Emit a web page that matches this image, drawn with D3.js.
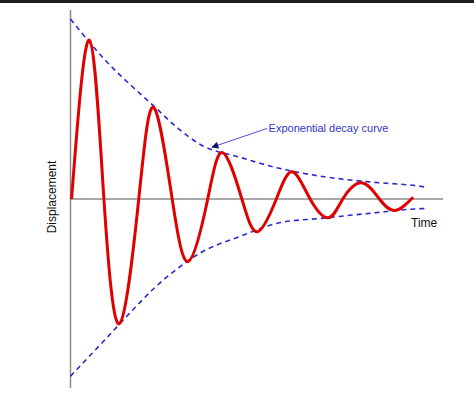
<!DOCTYPE html>
<html>
<head>
<meta charset="utf-8">
<script src="https://cdn.jsdelivr.net/npm/d3@7"></script>
<style>
  html, body { margin: 0; padding: 0; background: #fff; }
  #bar { height: 3px; background: #1e1e1e; }
  svg { display: block; }
</style>
</head>
<body>
<div id="bar"></div>
<div id="div1"></div>
<script>
// Damped oscillation (time in arbitrary units, displacement relative to start amplitude)
let waveTime = [0.03, 0.53, 0.94, 1.38, 1.92, 2.34, 2.86, 3.32, 3.86, 4.28, 4.82, 5.26, 5.79, 6.24, 6.74, 7.26, 7.66, 8.19, 8.69, 9.13, 9.64]
let waveDisp = [0, 0.883, 0, -0.692, 0, 0.508, 0, -0.346, 0, 0.258, 0, -0.182, 0, 0.151, 0, -0.104, 0, 0.09, 0, -0.064, 0.01]

// envelope (exponential decay curve), upper and lower
let envTime = [0, 1.03, 1.83, 2.33, 3.04, 3.65, 4.78, 5.9, 7.02, 8.4, 9.83, 10]
let envUpper = [1.0, 0.76, 0.608, 0.519, 0.39, 0.303, 0.231, 0.169, 0.127, 0.095, 0.071, 0.066]
let envLower = [-0.984, -0.769, -0.6, -0.5, -0.382, -0.3, -0.207, -0.131, -0.108, -0.08, -0.054, -0.053]

// annotation: arrow tip and label anchor
let noteText = "Exponential decay curve"
let noteTip = [3.98, 0.288]
let noteFrom = [5.53, 0.392]

let xLabel = "Time"
let yLabel = "Displacement"

let width = 474, height = 393

let svg = d3.select("#div1").append("svg")
  .attr("width", width)
  .attr("height", height)

let x = d3.scaleLinear().domain([0, 10]).range([70.5, 426])
let y = d3.scaleLinear().domain([-1.05, 1.05]).range([385, 7])

// axes
svg.append("line")
   .attr("x1", x(0)).attr("x2", x(0))
   .attr("y1", y(1.05)).attr("y2", y(-1.05))
   .style("stroke", "#8a8a8a")
   .style("stroke-width", 1.5)

svg.append("line")
   .attr("x1", x(0)).attr("x2", x(10.48))
   .attr("y1", y(0)).attr("y2", y(0))
   .style("stroke", "#555")
   .style("stroke-width", 1)

// envelope lines
let envLine = d3.line()
  .x(d => x(d[0]))
  .y(d => y(d[1]))
  .curve(d3.curveMonotoneX)

let upper = envTime.map((t, i) => [t, envUpper[i]])
let lower = envTime.map((t, i) => [t, envLower[i]])

svg.selectAll("path.env")
   .data([upper, lower])
   .enter()
   .append("path")
   .attr("class", "env")
   .attr("d", envLine)
   .style("fill", "none")
   .style("stroke", "#2a2ad0")
   .style("stroke-width", 1.6)
   .style("stroke-dasharray", "5,4")

// the oscillation
let wave = waveTime.map((t, i) => [t, waveDisp[i]])

svg.append("path")
   .datum(wave)
   .attr("d", d3.line().x(d => x(d[0])).y(d => y(d[1])).curve(d3.curveNatural))
   .style("fill", "none")
   .style("stroke", "#e00000")
   .style("stroke-width", 3)
   .style("stroke-linejoin", "round")

// annotation arrow
svg.append("defs").append("marker")
   .attr("id", "head")
   .attr("viewBox", "0 0 10 10")
   .attr("refX", 9).attr("refY", 5)
   .attr("markerWidth", 9).attr("markerHeight", 7)
   .attr("markerUnits", "userSpaceOnUse")
   .attr("orient", "auto")
   .append("path")
   .attr("d", "M0,0 L10,5 L0,10 Z")
   .style("fill", "#10106a")

svg.append("line")
   .attr("x1", x(noteFrom[0])).attr("y1", y(noteFrom[1]))
   .attr("x2", x(noteTip[0])).attr("y2", y(noteTip[1]))
   .style("stroke", "#5050d8")
   .style("stroke-width", 1)
   .attr("marker-end", "url(#head)")

svg.append("text")
   .attr("x", x(noteFrom[0]) + 1.5)
   .attr("y", y(noteFrom[1]) + 4)
   .text(noteText)
   .style("font-family", "'Liberation Sans', Arial, sans-serif")
   .style("font-size", "11px")
   .style("fill", "#3434c8")

// axis labels
svg.append("text")
   .attr("x", 411)
   .attr("y", y(0) + 28)
   .text(xLabel)
   .style("font-family", "'Liberation Sans', Arial, sans-serif")
   .style("font-size", "12px")
   .style("fill", "#111")

svg.append("text")
   .attr("transform", "translate(55.5," + (y(0) - 2) + ") rotate(-90)")
   .attr("text-anchor", "middle")
   .text(yLabel)
   .style("font-family", "'Liberation Sans', Arial, sans-serif")
   .style("font-size", "12px")
   .style("fill", "#111")
</script>
</body>
</html>
